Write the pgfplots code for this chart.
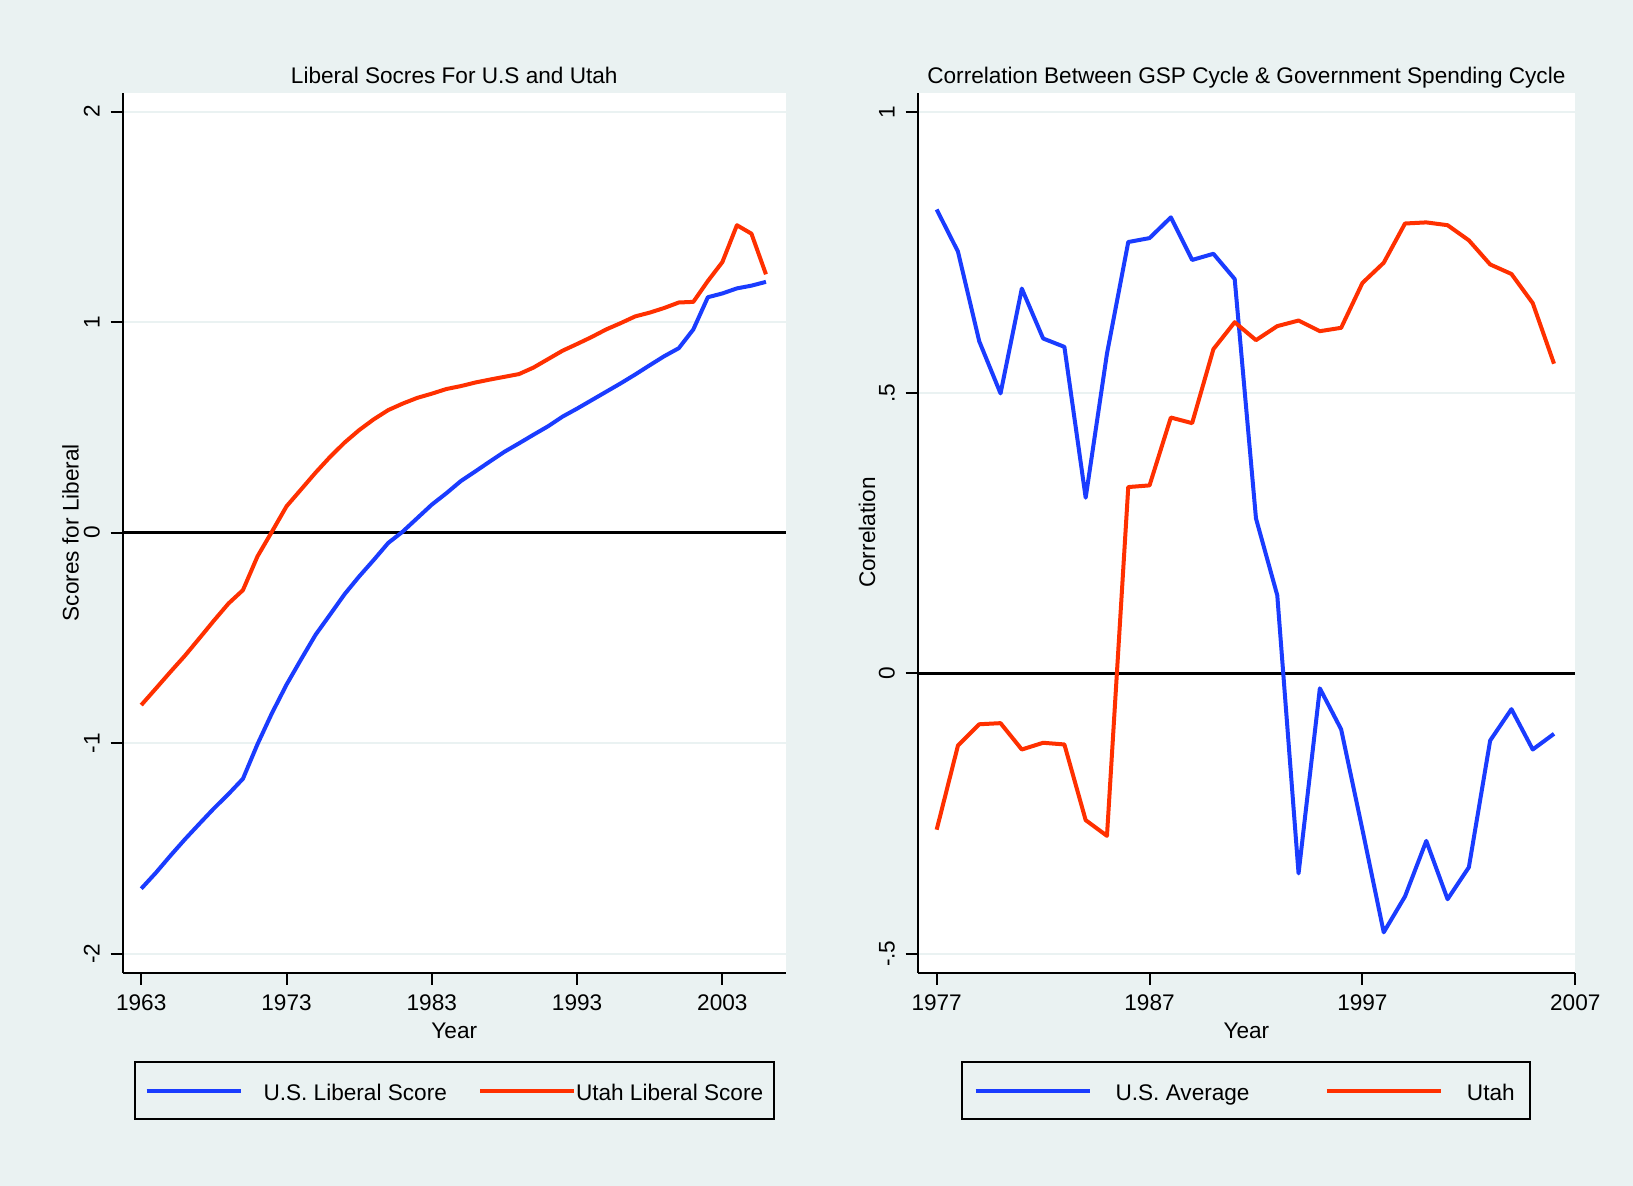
\documentclass[border=0pt]{standalone}
\usepackage{fontspec}
\setmainfont{Liberation Sans}
\usepackage{pgfplots}
\pgfplotsset{compat=1.18}
\definecolor{bgcol}{RGB}{234,242,242}
\definecolor{stblue}{RGB}{26,60,255}
\definecolor{stred}{RGB}{255,48,0}
\newcommand{\fs}{\fontsize{11.3}{13.5}\selectfont}
\pgfplotsset{
  stata/.style={
    scale only axis,
    height=440.05pt,
    axis x line=bottom, axis y line=left,
    axis line style={-, black, line width=1pt},
    axis background/.style={fill=white},
    tick align=outside,
    major tick length=6pt,
    tick style={black, line width=1pt},
    ymajorgrids,
    grid style={bgcol, line width=1pt},
    title style={font=\fs, at={(axis description cs:0.5,1)}, anchor=base, yshift=-1.45pt},
    xlabel style={font=\fs, at={(axis description cs:0.5,-0.075)}, anchor=base},
    xticklabel style={font=\fs, anchor=base, yshift=-12.85pt},
    yticklabel style={font=\fs, xshift=-5.5pt, rotate=90, anchor=base},
    legend style={font=\fs, draw=black, line width=1pt, fill=bgcol,
      legend columns=2, /tikz/column sep=0pt,
      nodes={inner sep=0pt, text height=10pt, text depth=0pt, anchor=west},
      inner ysep=9.2pt, at={(axis description cs:0.5,-0.1006)}, anchor=north},
  }
}
\begin{document}
\begin{tikzpicture}
\fill[bgcol] (0,0) rectangle (816.5pt,593pt);
\begin{axis}[stata,
  at={(61.25pt,106.65pt)}, anchor=south west,
  width=331.75pt,
  xmin=1961.71, xmax=2007.38, ymin=-2.09, ymax=2.09,
  xtick={1963,1973,1983,1993,2003},
  xticklabels={1963,1973,1983,1993,2003},
  ytick={-2,-1,0,1,2},
  yticklabels={-2,-1,0,1,2},
  title={Liberal Socres For U.S and Utah},
  xlabel={Year},
  ylabel={Scores for Liberal},
  ylabel style={font=\fs, at={(axis description cs:-0.0663,0.5)}, anchor=base},
  legend style={inner xsep=5.0pt},
  legend image code/.code={\draw[#1] (0pt,0pt) -- (47pt,0pt);},
]
\addplot[black, line width=1.4pt, forget plot] coordinates {(1961.71,0) (2007.38,0)};
\addplot[stblue, line width=2pt, line join=round] coordinates {
(1963,-1.691) (1964,-1.616) (1965,-1.535) (1966,-1.457) (1967,-1.383)
(1968,-1.310) (1969,-1.242) (1970,-1.169) (1971,-1.005) (1972,-0.857)
(1973,-0.722) (1974,-0.602) (1975,-0.485) (1976,-0.389) (1977,-0.292)
(1978,-0.208) (1979,-0.130) (1980,-0.049) (1981,0.005) (1982,0.069)
(1983,0.133) (1984,0.187) (1985,0.245) (1986,0.291) (1987,0.338)
(1988,0.384) (1989,0.424) (1990,0.465) (1991,0.505) (1992,0.551)
(1993,0.589) (1994,0.629) (1995,0.669) (1996,0.709) (1997,0.751)
(1998,0.795) (1999,0.838) (2000,0.876) (2001,0.965) (2002,1.118)
(2003,1.136) (2004,1.160) (2005,1.173) (2006,1.191)};
\addlegendentry{\makebox[117.75pt][l]{\hspace{10.5pt}U.S. Liberal Score}}
\addplot[stred, line width=2pt, line join=round] coordinates {
(1963,-0.819) (1964,-0.741) (1965,-0.662) (1966,-0.585) (1967,-0.502)
(1968,-0.418) (1969,-0.337) (1970,-0.273) (1971,-0.113) (1972,0.005)
(1973,0.125) (1974,0.205) (1975,0.285) (1976,0.360) (1977,0.428)
(1978,0.487) (1979,0.538) (1980,0.582) (1981,0.613) (1982,0.640)
(1983,0.660) (1984,0.682) (1985,0.696) (1986,0.713) (1987,0.727)
(1988,0.740) (1989,0.753) (1990,0.784) (1991,0.824) (1992,0.864)
(1993,0.896) (1994,0.929) (1995,0.965) (1996,0.995) (1997,1.027)
(1998,1.045) (1999,1.067) (2000,1.093) (2001,1.096) (2002,1.195)
(2003,1.285) (2004,1.460) (2005,1.420) (2006,1.227)};
\addlegendentry{\makebox[94pt][l]{Utah Liberal Score}}
\end{axis}
\begin{axis}[stata,
  at={(458.75pt,106.65pt)}, anchor=south west,
  width=328.9pt,
  xmin=1976.10, xmax=2007, ymin=-0.534, ymax=1.0355,
  xtick={1977,1987,1997,2007},
  xticklabels={1977,1987,1997,2007},
  ytick={-0.5,0,0.5,1},
  yticklabels={-.5,0,.5,1},
  title={Correlation Between GSP Cycle \& Government Spending Cycle},
  xlabel={Year},
  ylabel={Correlation},
  ylabel style={font=\fs, at={(axis description cs:-0.0646,0.5)}, anchor=base},
  legend style={inner xsep=5.6pt},
  legend image code/.code={\draw[#1] (0pt,0pt) -- (57pt,0pt);},
]
\addplot[black, line width=1.4pt, forget plot] coordinates {(1976.10,0) (2007,0)};
\addplot[stblue, line width=2pt, line join=round] coordinates {
(1977,0.827) (1978,0.752) (1979,0.592) (1980,0.499) (1981,0.686)
(1982,0.597) (1983,0.582) (1984,0.313) (1985,0.570) (1986,0.769)
(1987,0.776) (1988,0.813) (1989,0.737) (1990,0.748) (1991,0.703)
(1992,0.276) (1993,0.139) (1994,-0.357) (1995,-0.027) (1996,-0.100)
(1997,-0.279) (1998,-0.462) (1999,-0.398) (2000,-0.299) (2001,-0.403)
(2002,-0.346) (2003,-0.120) (2004,-0.064) (2005,-0.136) (2006,-0.108)};
\addlegendentry{\makebox[116.7pt][l]{\hspace{12pt}U.S. Average}}
\addplot[stred, line width=2pt, line join=round] coordinates {
(1977,-0.279) (1978,-0.129) (1979,-0.091) (1980,-0.089) (1981,-0.136)
(1982,-0.124) (1983,-0.127) (1984,-0.262) (1985,-0.290) (1986,0.332)
(1987,0.335) (1988,0.456) (1989,0.446) (1990,0.578) (1991,0.626)
(1992,0.594) (1993,0.619) (1994,0.629) (1995,0.610) (1996,0.616)
(1997,0.696) (1998,0.732) (1999,0.802) (2000,0.804) (2001,0.799)
(2002,0.772) (2003,0.729) (2004,0.712) (2005,0.660) (2006,0.552)};
\addlegendentry{\makebox[38.15pt][l]{\hspace{12pt}Utah}}
\end{axis}
\end{tikzpicture}
\end{document}
